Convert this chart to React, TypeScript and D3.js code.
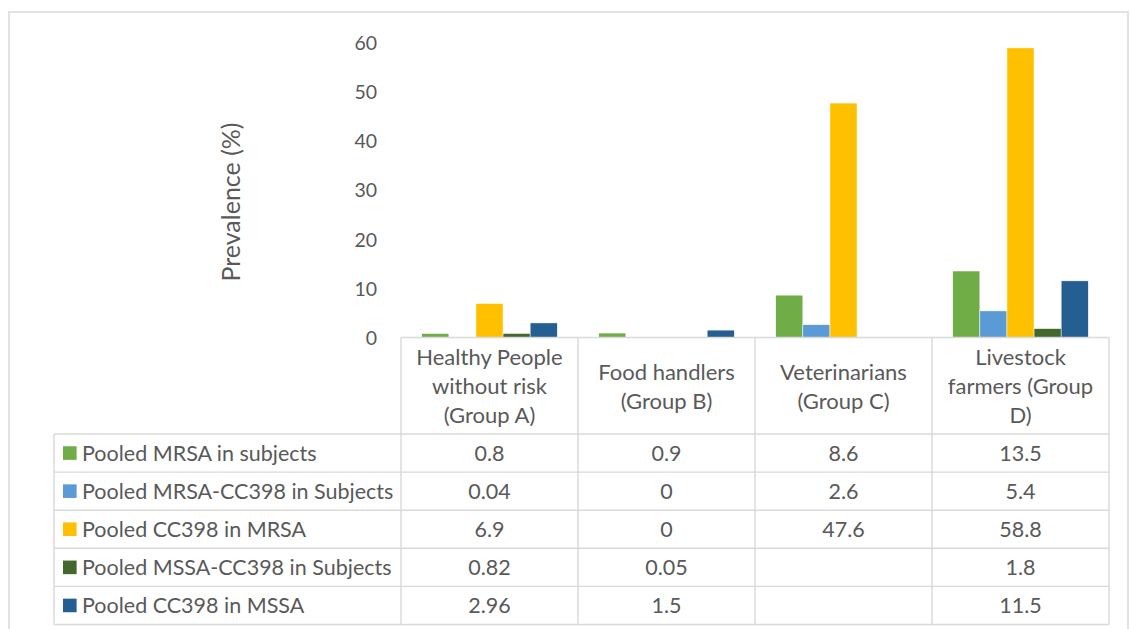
import React from "react";
import * as d3 from "d3";

const categories = [
  ["Healthy People", "without risk", "(Group A)"],
  ["Food handlers", "(Group B)"],
  ["Veterinarians", "(Group C)"],
  ["Livestock", "farmers (Group", "D)"],
];
const seriesNames = [
  "Pooled MRSA in subjects",
  "Pooled MRSA-CC398 in Subjects",
  "Pooled CC398 in MRSA",
  "Pooled MSSA-CC398 in Subjects",
  "Pooled CC398 in MSSA",
];
const seriesColors = ["#70AD47", "#5B9BD5", "#FFC000", "#43682B", "#255E91"];
// null = no value reported for that group
const mrsaInSubjects = [0.8, 0.9, 8.6, 13.5];
const mrsaCC398InSubjects = [0.04, 0, 2.6, 5.4];
const cc398InMRSA = [6.9, 0, 47.6, 58.8];
const mssaCC398InSubjects = [0.82, 0.05, null, 1.8];
const cc398InMSSA = [2.96, 1.5, null, 11.5];
const seriesValues = [mrsaInSubjects, mrsaCC398InSubjects, cc398InMRSA, mssaCC398InSubjects, cc398InMSSA];
const yTicks = [0, 10, 20, 30, 40, 50, 60];

const W = 1130;
const H = 629;
const FONT = "Lato, 'Open Sans', sans-serif";
const TEXT = "#595959";
const GRID = "#D9D9D9";

export default function App() {
  const catIdx = categories.map((_, i) => String(i));
  const x = d3.scaleBand<string>().domain(catIdx).range([401, 1109]).paddingInner(0).paddingOuter(0);
  const xs = d3
    .scaleBand<string>()
    .domain(seriesNames)
    .range([0, x.bandwidth()])
    .paddingInner(0)
    .paddingOuter(0.765);
  const y = d3.scaleLinear().domain([0, 60]).range([337.5, 42]);

  const tableLeft = 54;
  const tableRight = 1109;
  const headerTop = y(0);
  const headerBottom = 434;
  const rowH = 38.1;

  return (
    <svg width={W} height={H} style={{ display: "block", position: "absolute", left: 0, top: 0 }} fontFamily={FONT}>
      <rect x={0} y={0} width={W} height={H} fill="#fff" />
      <rect x={9} y={12} width={1119} height={640} fill="none" stroke={GRID} strokeWidth={1.5} />

      {/* y axis labels */}
      {yTicks.map((t) => (
        <text key={t} x={377} y={y(t)} textAnchor="end" dominantBaseline="central" fontSize={19.5} fill={TEXT}>
          {t}
        </text>
      ))}
      <text
        transform={`translate(230,202) rotate(-90)`}
        textAnchor="middle"
        dominantBaseline="central"
        fontSize={25}
        fill={TEXT}
      >
        Prevalence (%)
      </text>

      {/* bars */}
      {seriesValues.map((vals, si) =>
        vals.map((v, ci) =>
          v == null ? null : (
            <rect
              key={`${si}-${ci}`}
              x={(x(String(ci)) as number) + (xs(seriesNames[si]) as number)}
              y={y(v)}
              width={xs.bandwidth()}
              height={y(0) - y(v)}
              fill={seriesColors[si]}
              stroke="#fff"
              strokeWidth={0.5}
            />
          )
        )
      )}

      {/* data table */}
      <g stroke={GRID} strokeWidth={1.4} fill="none">
        <line x1={401} x2={tableRight} y1={headerTop} y2={headerTop} />
        {seriesNames.map((_, i) => (
          <line key={i} x1={tableLeft} x2={tableRight} y1={headerBottom + i * rowH} y2={headerBottom + i * rowH} />
        ))}
        <line x1={tableLeft} x2={tableRight} y1={headerBottom + 5 * rowH} y2={headerBottom + 5 * rowH} />
        <line x1={tableLeft} x2={tableLeft} y1={headerBottom} y2={headerBottom + 5 * rowH} />
        {catIdx.map((c) => (
          <line key={c} x1={x(c) as number} x2={x(c) as number} y1={headerTop} y2={headerBottom + 5 * rowH} />
        ))}
        <line x1={tableRight} x2={tableRight} y1={headerTop} y2={headerBottom + 5 * rowH} />
      </g>

      {/* category headers */}
      {categories.map((lines, ci) => {
        const cx = (x(String(ci)) as number) + x.bandwidth() / 2;
        const mid = (headerTop + headerBottom) / 2;
        const lh = 29;
        return lines.map((ln, li) => (
          <text
            key={`${ci}-${li}`}
            x={cx}
            y={mid + (li - (lines.length - 1) / 2) * lh}
            textAnchor="middle"
            dominantBaseline="central"
            fontSize={22}
            fill={TEXT}
          >
            {ln}
          </text>
        ));
      })}

      {/* legend rows and values */}
      {seriesNames.map((name, si) => {
        const cy = headerBottom + si * rowH + rowH / 2;
        return (
          <g key={name}>
            <rect x={63} y={cy - 6.8} width={13.6} height={13.6} fill={seriesColors[si]} />
            <text x={82} y={cy} dominantBaseline="central" fontSize={21.5} fill={TEXT}>
              {name}
            </text>
            {seriesValues[si].map((v, ci) =>
              v == null ? null : (
                <text
                  key={ci}
                  x={(x(String(ci)) as number) + x.bandwidth() / 2}
                  y={cy}
                  textAnchor="middle"
                  dominantBaseline="central"
                  fontSize={21.5}
                  fill={TEXT}
                >
                  {String(v)}
                </text>
              )
            )}
          </g>
        );
      })}
    </svg>
  );
}
